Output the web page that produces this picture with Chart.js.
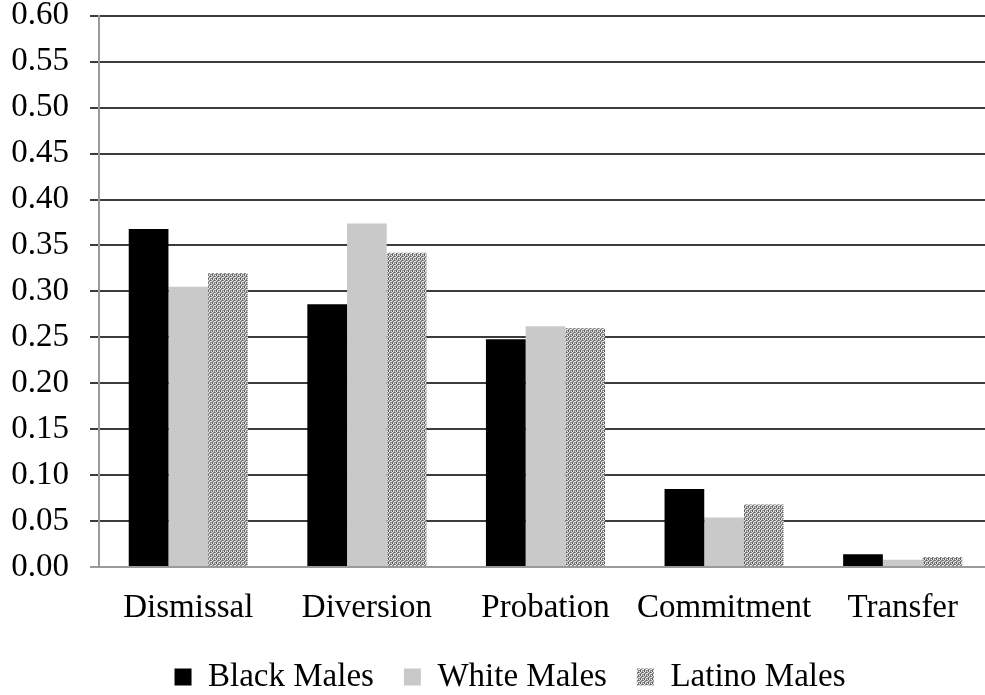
<!DOCTYPE html>
<html>
<head>
<meta charset="utf-8">
<script src="https://cdn.jsdelivr.net/npm/chart.js@4.4.1/dist/chart.umd.min.js"></script>
<style>
  html, body { margin: 0; padding: 0; background: #fff; overflow: hidden; width: 985px; height: 695px; }
  #c { position: absolute; left: 0; top: 0; }
</style>
</head>
<body>
<canvas id="c" width="1000" height="740"></canvas>
<script>
const categories = ['Dismissal', 'Diversion', 'Probation', 'Commitment', 'Transfer'];
const blackMales = [0.368, 0.286, 0.248, 0.085, 0.014];
const whiteMales = [0.305, 0.374, 0.262, 0.054, 0.008];
const latinoMales = [0.320, 0.342, 0.260, 0.068, 0.011];
const seriesNames = ['Black Males', 'White Males', 'Latino Males'];

// Stippled grey fill for the third series
function makeStipple() {
  const p = document.createElement('canvas');
  p.width = 4; p.height = 4;
  const g = p.getContext('2d');
  g.fillStyle = '#8c8c8c';
  g.fillRect(0, 0, 4, 4);
  g.fillStyle = '#e6e6e6';
  [[1,0],[3,0],[0,1],[2,2],[1,3],[3,2]].forEach(([x, y]) => g.fillRect(x, y, 1, 1));
  g.fillStyle = '#5e5e5e';
  [[0,0],[2,1],[0,3]].forEach(([x, y]) => g.fillRect(x, y, 1, 1));
  return g.createPattern(p, 'repeat');
}
const canvas = document.getElementById('c');
const ctx = canvas.getContext('2d');
const stipple = makeStipple();

const serif = 'Liberation Serif';
// Page positions of the plot top, plot bottom and legend line
const PAGE_TOP = 16;
const PAGE_BOTTOM = 567;
const PAGE_LEGEND = 667;
let shift = 0; // canvas is moved up by this much so the plot top lands on PAGE_TOP

const legendPlacer = {
  id: 'legendPlacer',
  afterLayout(chart) {
    const lg = chart.legend;
    if (!lg) return;
    const dy = (PAGE_LEGEND + shift) - (lg.top + lg.bottom) / 2;
    const dx = 14;
    lg.top += dy; lg.bottom += dy;
    lg.left += dx; lg.right += dx;
  }
};

const chart = new Chart(ctx, {
  type: 'bar',
  data: {
    labels: categories,
    datasets: [
      { label: seriesNames[0], data: blackMales, backgroundColor: '#000000', borderWidth: 0 },
      { label: seriesNames[1], data: whiteMales, backgroundColor: '#c9c9c9', borderWidth: 0 },
      { label: seriesNames[2], data: latinoMales, backgroundColor: stipple, borderWidth: 0 }
    ]
  },
  options: {
    responsive: false,
    animation: false,
    devicePixelRatio: 1,
    layout: { padding: { left: 0, right: 8, top: 0, bottom: 0 } },
    datasets: { bar: { categoryPercentage: 0.667, barPercentage: 1.0 } },
    scales: {
      x: {
        afterFit: (s) => {
          const lh = s.chart.legend ? s.chart.legend.height : 60;
          s.height = s.chart.height - (PAGE_BOTTOM + shift) - lh;
        },
        grid: { display: false, drawTicks: false },
        border: { display: true, color: '#9a9a9a', width: 2 },
        ticks: {
          color: '#000', font: { family: serif, size: 33 }, padding: 22,
          maxRotation: 0, minRotation: 0, autoSkip: false
        }
      },
      y: {
        min: 0, max: 0.6,
        afterFit: (s) => { s.width = 99; },
        ticks: {
          stepSize: 0.05,
          color: '#000',
          padding: 21,
          font: { family: serif, size: 33 },
          callback: (v) => Number(v).toFixed(2)
        },
        grid: {
          color: (c) => (c.tick && c.tick.value === 0 ? '#9a9a9a' : '#3c3c3c'),
          lineWidth: 2,
          tickLength: 9,
          drawTicks: true
        },
        border: { display: true, color: '#9a9a9a', width: 2 }
      }
    },
    plugins: {
      tooltip: { enabled: false },
      legend: {
        position: 'bottom',
        align: 'center',
        labels: {
          color: '#000',
          font: { family: serif, size: 33 },
          boxWidth: 17,
          boxHeight: 17,
          padding: 30
        }
      }
    }
  },
  plugins: [legendPlacer]
});

shift = Math.round(chart.chartArea.top - PAGE_TOP);
chart.update();
canvas.style.top = (-shift) + 'px';
</script>
</body>
</html>
